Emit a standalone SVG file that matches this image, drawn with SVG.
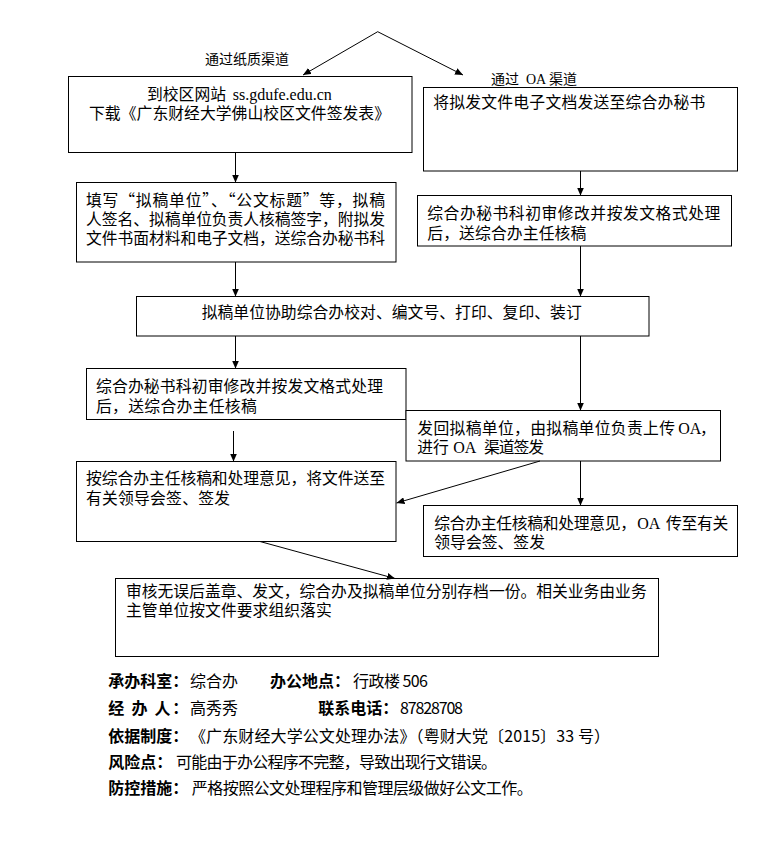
<svg xmlns="http://www.w3.org/2000/svg" width="776" height="849" viewBox="0 0 776 849">
<style>
  .box { fill: #fff; stroke: #000; stroke-width: 1; }
  .t { font-family: "Noto Sans CJK SC", "Noto Sans CJK JP", sans-serif; font-size: 15.8px; fill: #000; }
  .lbl { font-family: "Noto Sans CJK SC", "Noto Sans CJK JP", sans-serif; font-size: 14px; fill: #000; }
  .f { font-family: "Noto Sans CJK SC", "Noto Sans CJK JP", sans-serif; font-size: 16px; fill: #000; }
  .b { font-weight: bold; }
  .s { font-family: "Liberation Serif", "Times New Roman", serif; }
  .c { fill: none; stroke: #000; stroke-width: 1; marker-end: url(#ah); }
</style>
<defs>
  <marker id="ah" markerUnits="userSpaceOnUse" markerWidth="8" markerHeight="7" refX="8" refY="3.5" orient="auto">
    <path d="M0,0 L8,3.5 L0,7 z" fill="#000"/>
  </marker>
</defs>
<rect width="776" height="849" fill="#fff"/>

<g id="label-paper">
  <text class="lbl" x="205" y="63.5" textLength="84" lengthAdjust="spacing">通过纸质渠道</text>
</g>
<g id="label-oa">
  <text class="lbl" y="83.5"><tspan x="491">通过</tspan><tspan class="s" x="526">OA</tspan><tspan x="549">渠道</tspan></text>
</g>

<g id="n1">
  <rect class="box" x="68.5" y="76.5" width="343.5" height="76"/>
  <text class="t" y="99.5"><tspan x="147">到校区网站</tspan><tspan class="s" x="232.7" style="font-size:16px">ss.gdufe.edu.cn</tspan></text>
  <text class="t" x="89" y="118.8" textLength="301" lengthAdjust="spacing">下载《广东财经大学佛山校区文件签发表》</text>
</g>
<g id="n2">
  <rect class="box" x="423.5" y="87.5" width="314" height="83.5"/>
  <text class="t" x="433.3" y="107.5" textLength="272" lengthAdjust="spacing">将拟发文件电子文档发送至综合办秘书</text>
</g>
<g id="n3">
  <rect class="box" x="76.5" y="182.5" width="319.5" height="79.5"/>
  <text class="t" x="86" y="206.1" textLength="299" lengthAdjust="spacing">填写“拟稿单位”、“公文标题”等，拟稿</text>
  <text class="t" x="86" y="225.1" textLength="299" lengthAdjust="spacing">人签名、拟稿单位负责人核稿签字，附拟发</text>
  <text class="t" x="86" y="244.1" textLength="299" lengthAdjust="spacing">文件书面材料和电子文档，送综合办秘书科</text>
</g>
<g id="n4">
  <rect class="box" x="417.5" y="195.5" width="314" height="50.5"/>
  <text class="t" x="427.3" y="219.1" textLength="293" lengthAdjust="spacing">综合办秘书科初审修改并按发文格式处理</text>
  <text class="t" x="427.3" y="239.1" textLength="159" lengthAdjust="spacing">后，送综合办主任核稿</text>
</g>
<g id="n5">
  <rect class="box" x="136.5" y="296.5" width="512.5" height="39.5"/>
  <text class="t" x="201.7" y="318.3" textLength="380" lengthAdjust="spacing">拟稿单位协助综合办校对、编文号、打印、复印、装订</text>
</g>
<g id="n6">
  <rect class="box" x="86.5" y="368.5" width="319.5" height="51"/>
  <text class="t" x="96" y="391.8" textLength="287" lengthAdjust="spacing">综合办秘书科初审修改并按发文格式处理</text>
  <text class="t" x="96" y="411.8" textLength="160.7" lengthAdjust="spacing">后，送综合办主任核稿</text>
</g>
<g id="n7">
  <rect class="box" x="406" y="410.5" width="314.5" height="50.5"/>
  <text class="t" y="434.1"><tspan x="417.3" textLength="257.7" lengthAdjust="spacing">发回拟稿单位，由拟稿单位负责上传</tspan><tspan class="s" x="678.3" style="font-size:16px">OA</tspan><tspan x="700">，</tspan></text>
  <text class="t" y="453.1"><tspan x="417.3">进行</tspan><tspan class="s" x="453.3" style="font-size:16px">OA</tspan><tspan x="484" textLength="60" lengthAdjust="spacing">渠道签发</tspan></text>
</g>
<g id="n8">
  <rect class="box" x="76.5" y="461.5" width="319.5" height="80"/>
  <text class="t" x="86" y="484.1" textLength="299" lengthAdjust="spacing">按综合办主任核稿和处理意见，将文件送至</text>
  <text class="t" x="86" y="504.1" textLength="144" lengthAdjust="spacing">有关领导会签、签发</text>
</g>
<g id="n9">
  <rect class="box" x="423.5" y="505.5" width="314" height="51"/>
  <text class="t" y="528.5"><tspan x="434.3" textLength="201.7" lengthAdjust="spacing">综合办主任核稿和处理意见，</tspan><tspan class="s" x="637.3" style="font-size:16px">OA</tspan><tspan x="666" textLength="62.3" lengthAdjust="spacing">传至有关</tspan></text>
  <text class="t" x="434.3" y="547.5" textLength="110.7" lengthAdjust="spacing">领导会签、签发</text>
</g>
<g id="n10">
  <rect class="box" x="115.5" y="578.5" width="543" height="78"/>
  <text class="t" x="126" y="596.5" textLength="520.7" lengthAdjust="spacing">审核无误后盖章、发文，综合办及拟稿单位分别存档一份。相关业务由业务</text>
  <text class="t" x="126" y="615.8" textLength="205.7" lengthAdjust="spacing">主管单位按文件要求组织落实</text>
</g>

<g id="connectors">
  <path class="c" d="M377.7,31.7 L303,75"/>
  <path class="c" d="M377.7,31.7 L463,75"/>
  <path class="c" d="M235.5,152.5 V182.5"/>
  <path class="c" d="M580.5,171 V195.5"/>
  <path class="c" d="M235.5,262 V296.5"/>
  <path class="c" d="M580.5,246 V296.5"/>
  <path class="c" d="M235.5,336 V368.5"/>
  <path class="c" d="M580.5,336 V410.5"/>
  <path class="c" d="M233.5,431 V461.5"/>
  <path class="c" d="M540,461 L396.5,503"/>
  <path class="c" d="M580.5,461 V505.5"/>
  <path class="c" d="M260,541.5 L395,578.5"/>
</g>

<g id="footer">
  <text class="f" y="687"><tspan class="b" x="108.3" textLength="80" lengthAdjust="spacing">承办科室：</tspan><tspan x="190">综合办</tspan><tspan class="b" x="270" textLength="80" lengthAdjust="spacing">办公地点：</tspan><tspan x="353" textLength="75" lengthAdjust="spacing">行政楼 506</tspan></text>
  <text class="f" y="714.3"><tspan class="b" x="108.3" textLength="80" lengthAdjust="spacing">经 办 人：</tspan><tspan x="190">高秀秀</tspan><tspan class="b" x="318.3" textLength="80" lengthAdjust="spacing">联系电话：</tspan><tspan x="400" textLength="63" lengthAdjust="spacing">87828708</tspan></text>
  <text class="f" y="742"><tspan class="b" x="108.3" textLength="80" lengthAdjust="spacing">依据制度：</tspan><tspan x="190" textLength="420" lengthAdjust="spacing">《广东财经大学公文处理办法》（粤财大党〔2015〕33 号）</tspan></text>
  <text class="f" y="767.7"><tspan class="b" x="108.3" textLength="64" lengthAdjust="spacing">风险点：</tspan><tspan x="176" textLength="321" lengthAdjust="spacing">可能由于办公程序不完整，导致出现行文错误。</tspan></text>
  <text class="f" y="794.3"><tspan class="b" x="108.3" textLength="80" lengthAdjust="spacing">防控措施：</tspan><tspan x="191.7" textLength="341" lengthAdjust="spacing">严格按照公文处理程序和管理层级做好公文工作。</tspan></text>
</g>
</svg>
